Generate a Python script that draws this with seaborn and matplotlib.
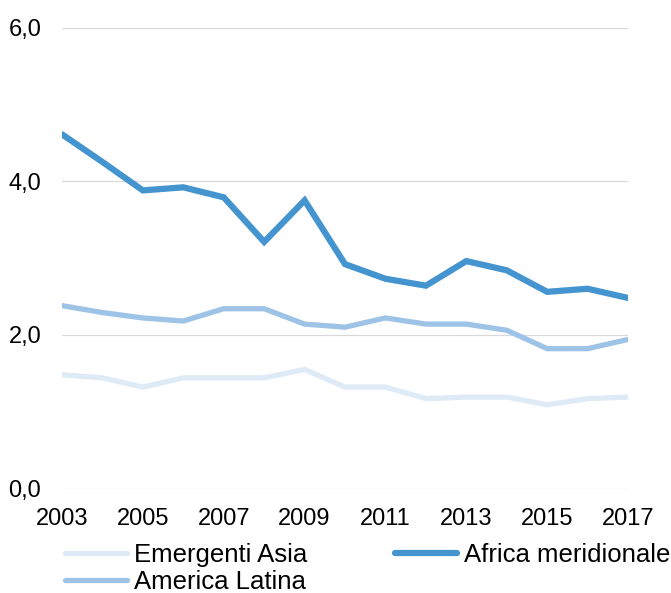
import matplotlib
matplotlib.use("Agg")
import matplotlib.pyplot as plt
import seaborn as sns
import pandas as pd
from matplotlib.lines import Line2D

years = list(range(2003, 2018))
emergenti_asia = [1.48, 1.44, 1.32, 1.44, 1.44, 1.44, 1.55, 1.32, 1.32, 1.17, 1.19, 1.19, 1.09, 1.17, 1.19]
america_latina = [2.38, 2.29, 2.22, 2.18, 2.34, 2.34, 2.14, 2.10, 2.22, 2.14, 2.14, 2.06, 1.82, 1.82, 1.94]
africa_meridionale = [4.61, 4.25, 3.88, 3.92, 3.79, 3.21, 3.75, 2.92, 2.73, 2.64, 2.96, 2.84, 2.56, 2.60, 2.48]
series_names = ["Emergenti Asia", "America Latina", "Africa meridionale"]
y_ticks = [0, 2, 4, 6]
x_ticks = list(range(2003, 2018, 2))

colors = {"Emergenti Asia": "#DEEBF7", "America Latina": "#9DC3E6", "Africa meridionale": "#4494D0"}
widths = {"Emergenti Asia": 3.8, "America Latina": 3.8, "Africa meridionale": 4.5}

sns.set_style("white")
plt.rcParams['font.family'] = ['Liberation Sans', 'DejaVu Sans']
plt.rcParams['text.color'] = 'black'

df = pd.DataFrame({
    "year": years * 3,
    "value": emergenti_asia + america_latina + africa_meridionale,
    "series": sum([[n] * len(years) for n in series_names], []),
})

fig = plt.figure(figsize=(6.71, 5.93), dpi=100)
ax = fig.add_axes([0.0924, 0.1762, 0.8436, 0.7774])

for name in series_names:
    sub = df[df["series"] == name]
    sns.lineplot(data=sub, x="year", y="value", ax=ax, color=colors[name],
                 linewidth=widths[name], legend=False, solid_joinstyle="miter")

ax.set_xlim(2003, 2017)
ax.set_ylim(0, 6)
ax.set_yticks(y_ticks)
ax.set_yticklabels([f"{v:.1f}".replace(".", ",") for v in y_ticks])
ax.set_xticks(x_ticks)
ax.set_xticklabels([str(x) for x in x_ticks])
ax.set_xlabel("")
ax.set_ylabel("")
ax.grid(axis="y", color="#D9D9D9", linewidth=0.9)
ax.set_axisbelow(True)
for s in ax.spines.values():
    s.set_visible(False)
ax.tick_params(axis="both", length=0, labelsize=17, colors="black")
ax.tick_params(axis="y", pad=15)
ax.tick_params(axis="x", pad=14)

handles = [Line2D([], [], color=colors[n], linewidth=widths[n], solid_capstyle="round") for n in series_names]
fig.legend(handles, series_names, loc="upper left", bbox_to_anchor=(0.097, 0.085),
           ncol=2, frameon=False, fontsize=18.5, handlelength=2.4, handletextpad=0.3,
           columnspacing=3.4, labelspacing=0.12, borderaxespad=0, borderpad=0,
           labelcolor="black")

fig.savefig("out.png", dpi=100)
